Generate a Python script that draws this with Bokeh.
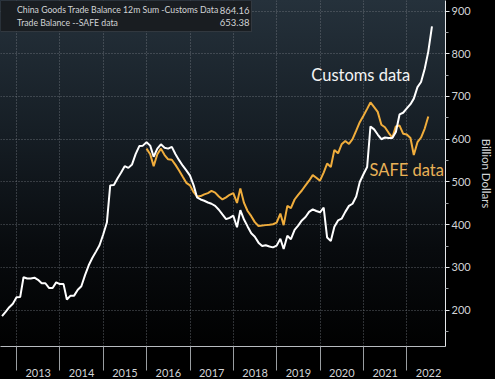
import pandas as pd
from bokeh.plotting import figure
from bokeh.models import (Range1d, FixedTicker, DatetimeTickFormatter, Legend,
                          LegendItem, Label, BoxAnnotation, ColumnDataSource)
from bokeh.embed import file_html
from bokeh.resources import INLINE

# ---------------- data ----------------
customs_start = "2012-08"
customs_values = [
    186, 196, 207, 215, 230,                                   # 2012 Aug-Dec
    231, 277, 274, 274, 276, 271, 263, 263, 252, 252, 265, 261,  # 2013
    261, 225, 234, 234, 248, 256, 282, 305, 322, 337, 352, 377,  # 2014
    405, 492, 493, 508, 522, 537, 533, 541, 565, 584, 585, 593,  # 2015
    585, 559, 578, 588, 580, 578, 582, 565, 551, 538, 527, 515,  # 2016
    492, 464, 459, 456, 452, 449, 444, 435, 424, 413, 416, 421,  # 2017
    394, 434, 412, 396, 380, 372, 358, 350, 352, 349, 347, 351,  # 2018
    367, 343, 374, 366, 388, 398, 410, 418, 430, 436, 432, 429,  # 2019
    440, 370, 362, 395, 410, 414, 430, 444, 449, 466, 500, 518,  # 2020
    535, 630, 623, 611, 600, 604, 603, 603, 617, 658, 662, 672,  # 2021
    682, 695, 722, 734, 765, 805, 864.16,                        # 2022 Jan-Jul
]
safe_start = "2015-12"
safe_values = [
    578,                                                         # 2015 Dec
    565, 537, 565, 578, 563, 553, 552, 540, 527, 512, 498, 492,  # 2016
    476, 466, 467, 471, 474, 479, 475, 466, 459, 464, 470, 474,  # 2017
    451, 485, 451, 432, 420, 406, 397, 398, 399, 400, 401, 405,  # 2018
    426, 399, 444, 439, 459, 470, 480, 492, 503, 516, 510, 503,  # 2019
    522, 543, 535, 575, 567, 588, 596, 589, 600, 620, 640, 655,  # 2020
    671, 686, 675, 664, 634, 628, 615, 604, 630, 632, 613, 611,  # 2021
    603, 563, 593, 604, 625, 653.38,                             # 2022 Jan-Jun
]
year_labels = list(range(2013, 2023))
y_ticks = [200, 300, 400, 500, 600, 700, 800, 900]
y_minor_ticks = [150, 250, 350, 450, 550, 650, 750, 850]
customs_name = "China Goods Trade Balance 12m Sum -Customs Data"
safe_name = "Trade Balance --SAFE data"
customs_last = "864.16"
safe_last = "653.38"

# ---------------- build ----------------
customs_src = ColumnDataSource(dict(
    date=pd.date_range(customs_start, periods=len(customs_values), freq="ME"),
    value=customs_values))
safe_src = ColumnDataSource(dict(
    date=pd.date_range(safe_start, periods=len(safe_values), freq="ME"),
    value=safe_values))


def ms(ts):
    return pd.Timestamp(ts).timestamp() * 1000.0


year_bounds = [ms(f"{y}-01-01") for y in year_labels]
year_mids = [ms(f"{y}-07-02") for y in year_labels]

FONT = "Lato"
WHITE = "#ffffff"
ORANGE = "#f0ad3c"
TXT = "#d2d4d6"
FW, FH = 445, 346
X0, X1 = ms("2012-08-18"), ms("2022-11-22")
Y0, Y1 = 115, 924.6


def fx(px):   # frame pixel from left -> x data value
    return X0 + (X1 - X0) * px / FW


def fy(px):   # frame pixel from top -> y data value
    return Y1 - (Y1 - Y0) * px / FH


p = figure(frame_width=FW, frame_height=FH,
           x_axis_type="datetime", y_axis_location="right",
           x_range=Range1d(X0, X1), y_range=Range1d(Y0, Y1),
           output_backend="svg", toolbar_location=None,
           min_border_left=0, min_border_top=0, min_border_right=0,
           min_border_bottom=0)

p.background_fill_alpha = 0
p.border_fill_alpha = 0
p.outline_line_color = None
p.styles = {
    "background-color": "#000000",
    "background-image": "linear-gradient(to bottom, #25313b 0%, #161e25 38%, #080b0e 72%, #010101 100%)",
    "background-size": f"{FW}px {FH}px",
    "background-repeat": "no-repeat",
    "background-position": "0px 0px",
}

# x axis: labels at mid-year, separators at year boundaries
xa = p.xaxis[0]
xa.ticker = FixedTicker(ticks=year_mids, minor_ticks=year_bounds)
xa.formatter = DatetimeTickFormatter(
    years="%Y", months="%Y", days="%Y", hours="%Y", minutes="%Y",
    seconds="%Y", milliseconds="%Y", microseconds="%Y",
    hourmin="%Y", minsec="%Y")
xa.major_tick_line_color = None
xa.major_tick_out = 0
xa.major_tick_in = 0
xa.minor_tick_line_color = "#9a9ea2"
xa.minor_tick_out = 24
xa.minor_tick_in = 0
xa.axis_line_color = "#b8bcc0"
xa.major_label_standoff = -2
xa.major_label_text_color = TXT
xa.major_label_text_font = FONT
xa.major_label_text_font_size = "11px"

# y axis on the right
ya = p.yaxis[0]
ya.ticker = FixedTicker(ticks=y_ticks, minor_ticks=y_minor_ticks)
ya.axis_line_color = "#e6e8ea"
ya.major_tick_line_color = "#e6e8ea"
ya.major_tick_out = 4
ya.major_tick_in = 0
ya.minor_tick_line_color = "#9a9ea2"
ya.minor_tick_out = 3
ya.minor_tick_in = 0
ya.major_label_standoff = 2
ya.major_label_text_color = TXT
ya.major_label_text_font = FONT
ya.major_label_text_font_size = "11px"
ya.axis_label = "Billion Dollars"
ya.axis_label_text_color = TXT
ya.axis_label_text_font = FONT
ya.axis_label_text_font_size = "11.5px"
ya.axis_label_text_font_style = "normal"
ya.axis_label_standoff = 6

# grids
p.xgrid.ticker = FixedTicker(ticks=year_bounds)
for g in (p.xgrid[0], p.ygrid[0]):
    g.grid_line_color = "#7b8288"
    g.grid_line_dash = "1 2"
    g.grid_line_width = 1
    g.grid_line_alpha = 0.75

# legend box (drawn separately so the value labels can sit on top of it)
p.add_layout(BoxAnnotation(left=fx(0), right=fx(251), top=fy(0), bottom=fy(31),
                           fill_color="#191d21", fill_alpha=1,
                           line_color="#62676c", line_width=1,
                           level="underlay"))

# lines
p.line("date", "value", source=safe_src, color=ORANGE, line_width=2)
p.line("date", "value", source=customs_src, color=WHITE, line_width=2)

# legend (square swatches), transparent so the box above shows through
sw1 = p.scatter(x=[], y=[], marker="square", size=9, color=WHITE)
sw2 = p.scatter(x=[], y=[], marker="square", size=9, color=ORANGE)
legend = Legend(items=[LegendItem(label=customs_name, renderers=[sw1]),
                       LegendItem(label=safe_name, renderers=[sw2])],
                location="top_left", margin=0, padding=4, spacing=2,
                glyph_width=9, glyph_height=9, label_height=10,
                label_width=150, label_standoff=4,
                label_text_font=FONT, label_text_font_size="8.7px",
                label_text_color=TXT, label_text_baseline="middle",
                background_fill_alpha=0, border_line_alpha=0)
p.add_layout(legend)

# last values, right-aligned at the right end of the legend box
for txt, px_from_top in ((customs_last, 10), (safe_last, 22)):
    p.add_layout(Label(x=fx(249), y=fy(px_from_top),
                       text=txt, text_align="right", text_baseline="middle",
                       text_font=FONT, text_font_size="9.5px", text_color=TXT,
                       level="overlay"))

# in-chart annotations
p.add_layout(Label(x=ms("2019-10-19"), y=751, text="Customs data",
                   text_baseline="middle", text_font=FONT,
                   text_font_size="16.5px", text_color="#f4f4f4"))
p.add_layout(Label(x=ms("2021-02-20"), y=529, text="SAFE data",
                   text_baseline="middle", text_font=FONT,
                   text_font_size="16.5px", text_color="#e9b257"))

open("out.html", "w").write(file_html(p, INLINE))
